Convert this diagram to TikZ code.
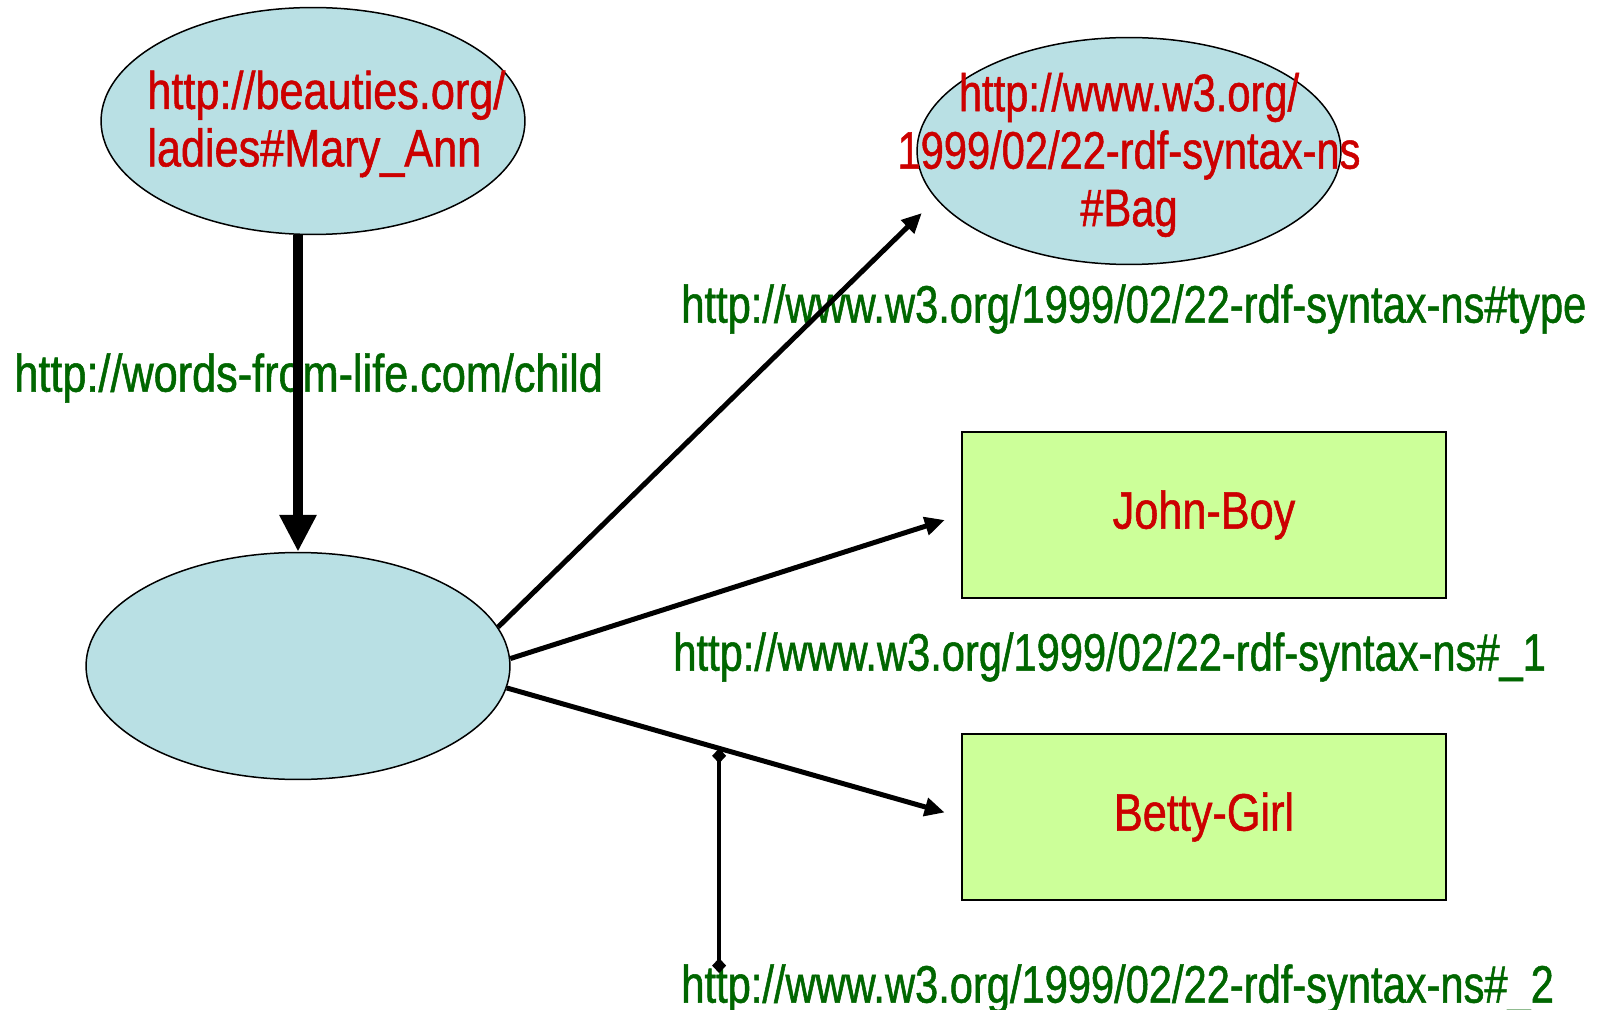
\documentclass[tikz,border=0pt]{standalone}
\usepackage{fontspec}
\setmainfont{Liberation Sans}[FakeStretch=0.82, FakeBold=1]
\newfontfamily\urifont{Liberation Sans}[FakeStretch=0.79, FakeBold=1]
\usepackage{tikz}
\usetikzlibrary{positioning,arrows.meta,shapes.geometric,calc}
\definecolor{resblue}{HTML}{B9E0E4}
\definecolor{litgreen}{HTML}{CCFF99}
\definecolor{urired}{HTML}{CC0000}
\definecolor{propgreen}{HTML}{006600}

\begin{document}
\begin{tikzpicture}[x=0.02cm,y=-0.02cm,
    res/.style={ellipse, draw, fill=resblue, line width=0.03cm,
                minimum width=8.48cm, minimum height=4.54cm, inner sep=0pt},
    restext/.style={text=urired, inner sep=0pt},
    lit/.style={draw, fill=litgreen, line width=0.04cm,
                minimum width=9.7cm, minimum height=3.32cm, text=urired},
    prop/.style={text=propgreen, inner sep=0pt},
    bigarr/.style={line width=0.2cm, -{Triangle[length=0.74cm,width=0.7cm]}},
    arr/.style={line width=0.1cm, -{Triangle[length=0.4cm,width=0.36cm]}},
    tie/.style={line width=0.08cm, {Diamond[length=0.3cm,width=0.28cm]}-{Diamond[length=0.3cm,width=0.28cm]}},
    every node/.style={font=\fontsize{30}{32.7}\selectfont},
]
\useasboundingbox (0,0) rectangle (1610,1010);

% resources
\node[res] (mary) at (313,121) {};
\node[restext, align=left, anchor=west] (marytext) at (147,124)
    {http://beauties.org/\\ladies\#Mary\_Ann};
\node[res] (bag) at (1129,151) {};
\node[restext, align=center, font=\fontsize{30}{32.7}\urifont] (bagtext) at (1129,155)
    {http://www.w3.org/\\1999/02/22-rdf-syntax-ns\\\#Bag};
\node[res] (bnode) at (298,666) {};

% literals
\node[lit] (john) at (1204,515) {John-Boy};
\node[lit] (betty) at (1204,817) {Betty-Girl};

% property labels
\node[prop, anchor=west] (lblchild) at (14,378) {http://words-from-life.com/child};
\tikzset{prop/.append style={font=\fontsize{30}{32.7}\urifont}}
\node[prop, anchor=west] (lbltype) at (681,309) {http://www.w3.org/1999/02/22-rdf-syntax-ns\#type};
\node[prop, anchor=west] (lblone) at (673,657) {http://www.w3.org/1999/02/22-rdf-syntax-ns\#\_1};
\node[prop, anchor=west] (lbltwo) at (681,989) {http://www.w3.org/1999/02/22-rdf-syntax-ns\#\_2};

% statements
\draw[bigarr] (mary.south -| bnode.north) -- (bnode.north);
\draw[arr, shorten >=0.4cm] (bnode.11) -- (bag.194);
\draw[arr, shorten >=0.33cm] (bnode.2) -- (john.west);
\draw[arr, shorten >=0.33cm] (bnode.-6) -- coordinate[pos=0.468] (mid) (betty.west);
\draw[tie] (mid) -- ($(mid |- lbltwo.north)+(0,9)$);
\end{tikzpicture}
\end{document}
